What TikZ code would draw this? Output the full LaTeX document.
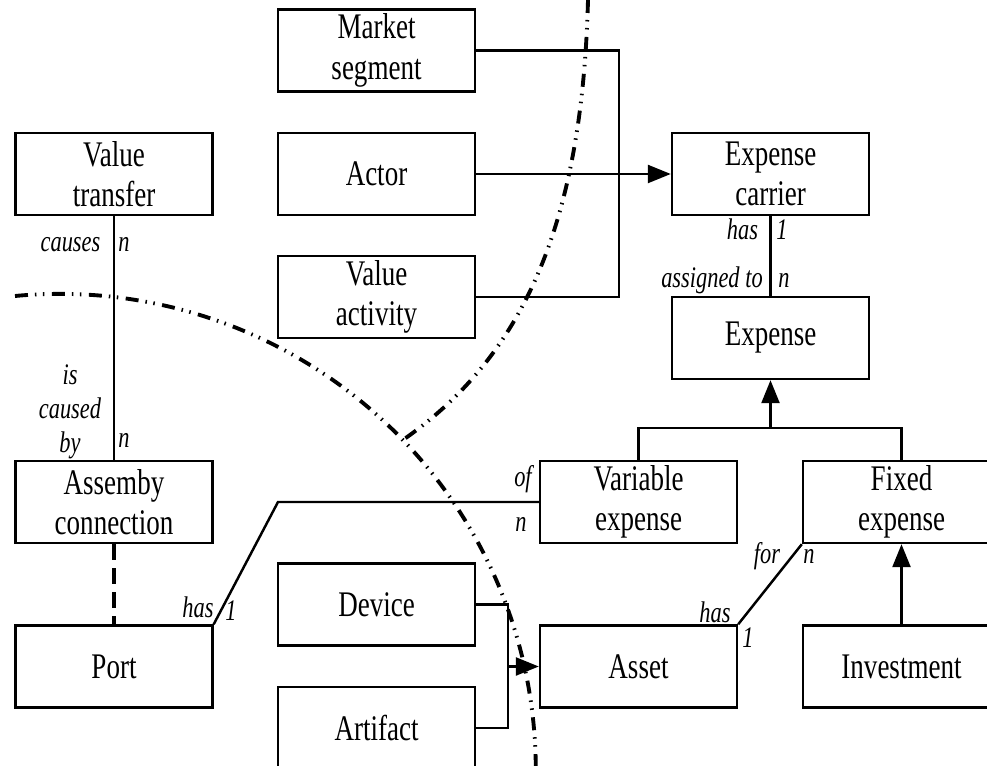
\documentclass[tikz,border=0pt]{standalone}
\usepackage{fontspec}
\setmainfont{Liberation Serif}[FakeStretch=0.75]
\usetikzlibrary{arrows.meta}

\begin{document}
\begin{tikzpicture}[x=0.02cm,y=-0.02cm,
		box/.style={draw,line width=1.4pt,minimum width=3.94cm,minimum height=1.64cm,
			inner sep=0pt,align=center,font=\fontsize{20.5}{23}\selectfont},
		lbl/.style={inner sep=0pt,anchor=base,font=\fontsize{17}{19.4}\selectfont\itshape},
		link/.style={line width=1.4pt},
		tip/.style={-{Triangle[length=0.46cm,width=0.36cm]}},
		border/.style={line width=2.2pt,
			dash pattern=on 0.26cm off 0.14cm on 0.03cm off 0.13cm on 0.03cm off 0.15cm}]
		\clip (0,0) rectangle (987,766);
		% classes
		\node[box] (ms) at (376.5,50.5) {Market\\segment};
		\node[box] (actor) at (376.5,174) {Actor};
		\node[box] (va) at (376.5,297) {Value\\activity};
		\node[box] (vt) at (114,174) {Value\\transfer};
		\node[box] (ec) at (770.5,174) {Expense\\carrier};
		\node[box] (exp) at (770.5,338) {Expense};
		\node[box] (asm) at (114,502) {Assemby\\connection};
		\node[box] (ve) at (638.5,502) {Variable\\expense};
		\node[box] (fe) at (901.5,502) {Fixed\\expense};
		\node[box] (port) at (114,666.5) {Port};
		\node[box] (dev) at (376.5,604.5) {Device};
		\node[box] (asset) at (638.5,666.5) {Asset};
		\node[box] (inv) at (901.5,666.5) {Investment};
		\node[box] (art) at (376.5,728) {Artifact};
		% joints
		\coordinate (mj) at (619,174);
		\coordinate (gj) at (770.5,428);
		\coordinate (pk) at (278,502);
		\coordinate (dj) at (508,666.5);
		% links
		\draw[link] (ms.east) -| (mj) |- (va.east);
		\draw[link,tip] (actor) -- (ec);
		\draw[link] (vt) -- (asm);
		\draw[line width=2pt,dash pattern=on 0.32cm off 0.16cm] (asm) -- (port);
		\draw[link] (ec) -- (exp);
		\draw[link] (ve.north) |- (gj) -| (fe.north);
		\draw[link,tip] (gj) -- (exp);
		\draw[link,tip] (inv) -- (fe);
		\draw[link] (asset.north east) -- (fe.south west);
		\draw[link] (port.north east) -- (pk) -- (ve.west);
		\draw[link] (dev.east) -| (dj) |- (art.east);
		\draw[link,tip] (dj) -- (asset);
		% boundaries
		\draw[border] (15,296) arc[start angle=-95.4,end angle=0,radius=476];
		\draw[border] (588,0) .. controls (582,230) and (520,360) .. (400,442);
		% roles
		\node[lbl] (l1) at (70.5,252) {causes};
		\node[lbl] (l2) at (124,252) {n};
		\node[lbl,anchor=center,align=center] (l3) at (70,412) {is\\caused\\by};
		\node[lbl] (l4) at (124,448) {n};
		\node[lbl] (l5) at (742.5,240) {has};
		\node[lbl] (l6) at (782,240) {1};
		\node[lbl] (l7) at (712,288) {assigned to};
		\node[lbl] (l8) at (784,288) {n};
		\node[lbl] (l9) at (198,617) {has};
		\node[lbl] (l10) at (231,620) {1};
		\node[lbl] (l11) at (523,487) {of};
		\node[lbl] (l12) at (521,532) {n};
		\node[lbl] (l13) at (767,563) {for};
		\node[lbl] (l14) at (809,563) {n};
		\node[lbl] (l15) at (715,622) {has};
		\node[lbl] (l16) at (748,647) {1};
\end{tikzpicture}
\end{document}
